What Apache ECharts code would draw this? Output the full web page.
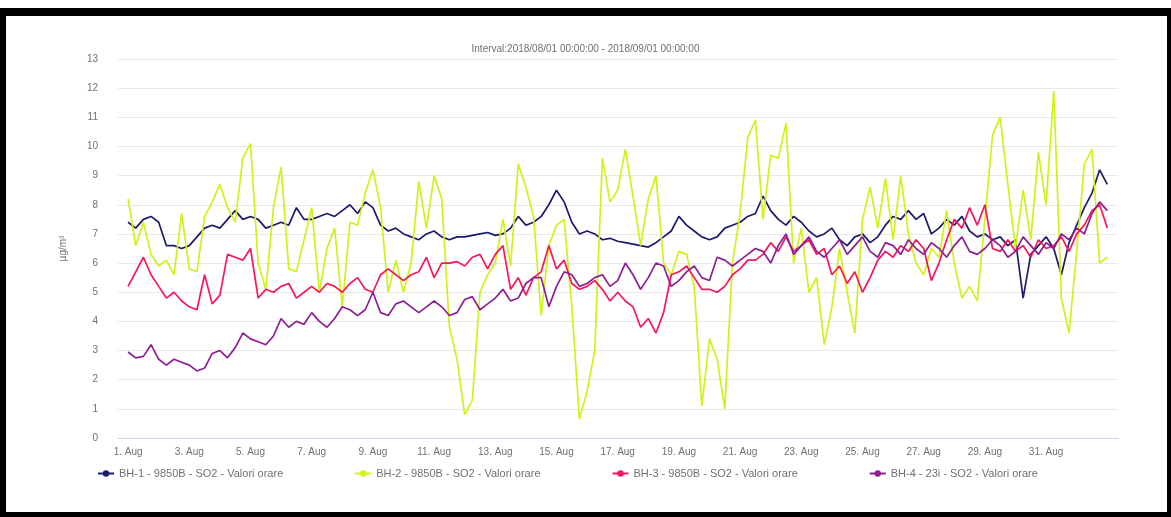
<!DOCTYPE html>
<html>
<head>
<meta charset="utf-8">
<title>SO2 - Valori orare</title>
<script src="https://cdn.jsdelivr.net/npm/echarts@6/dist/echarts.min.js"></script>
<style>
  html, body { margin: 0; padding: 0; background: #fff; }
  #chart { position: absolute; left: 0; top: 0; width: 1171px; height: 517px; }
  /* black frame round the screenshot */
  #frame {
    position: absolute; left: 0; top: 8px; width: 1171px; height: 509px;
    box-sizing: border-box; pointer-events: none;
    border-style: solid; border-color: #000;
    border-width: 8px 4px 5px 6px;
  }
</style>
</head>
<body>
<div id="chart"></div>
<div id="frame"></div>
<script>
// hourly readings, sampled every 6 h from 1 Aug 00:00 to 1 Sep 00:00
const stepDays = 0.25;
const titleText = 'Interval:2018/08/01 00:00:00 - 2018/09/01 00:00:00';
const yName = 'µg/m³';
const seriesNames = [
    'BH-1 - 9850B - SO2 - Valori orare',
    'BH-2 - 9850B - SO2 - Valori orare',
    'BH-3 - 9850B - SO2 - Valori orare',
    'BH-4 - 23i - SO2 - Valori orare'
];
const seriesColors = ['#1b1a6b', '#d4f01a', '#f5175a', '#8c1f93'];
// tick positions in days from 1 Aug, and their labels
const tickDays = [0, 2, 4, 6, 8, 10, 12, 14, 16, 18, 20, 22, 24, 26, 28, 30];
const tickLabels = ['1. Aug', '3. Aug', '5. Aug', '7. Aug', '9. Aug', '11. Aug', '13. Aug', '15. Aug',
    '17. Aug', '19. Aug', '21. Aug', '23. Aug', '25. Aug', '27. Aug', '29. Aug', '31. Aug'];

const bh1 = [
    7.4, 7.2, 7.5, 7.6,  7.4, 6.6, 6.6, 6.5,  6.6, 6.9, 7.2, 7.3,  7.2, 7.5, 7.8, 7.5,
    7.6, 7.5, 7.2, 7.3,  7.4, 7.3, 7.9, 7.5,  7.5, 7.6, 7.7, 7.6,  7.8, 8.0, 7.7, 8.1,
    7.9, 7.3, 7.1, 7.2,  7.0, 6.9, 6.8, 7.0,  7.1, 6.9, 6.8, 6.9,  6.9, 6.95, 7.0, 7.05,
    6.95, 7.0, 7.2, 7.6,  7.3, 7.4, 7.6, 8.0,  8.5, 8.1, 7.4, 7.0,  7.1, 7.0, 6.8, 6.85,
    6.75, 6.7, 6.65, 6.6,  6.55, 6.7, 6.9, 7.1,  7.6, 7.3, 7.1, 6.9,  6.8, 6.9, 7.2, 7.3,
    7.4, 7.6, 7.7, 8.3,  7.8, 7.5, 7.3, 7.6,  7.4, 7.1, 6.9, 7.0,  7.2, 6.8, 6.6, 6.9,
    7.0, 6.7, 6.9, 7.3,  7.6, 7.5, 7.8, 7.5,  7.7, 7.0, 7.2, 7.5,  7.3, 7.6, 7.1, 6.9,
    7.0, 6.8, 6.9, 6.6,  6.8, 4.8, 6.3, 6.6,  6.9, 6.5, 5.6, 6.7,  7.3, 7.9, 8.4, 9.2,
    8.7
];
const bh2 = [
    8.2, 6.6, 7.4, 6.3,  5.9, 6.1, 5.6, 7.7,  5.8, 5.7, 7.6, 8.1,  8.7, 7.9, 7.4, 9.6,
    10.1, 6.0, 5.1, 7.9,  9.3, 5.8, 5.7, 6.8,  7.9, 5.0, 6.5, 7.2,  4.5, 7.4, 7.3, 8.4,
    9.2, 7.9, 5.0, 6.1,  5.0, 6.0, 8.8, 7.2,  9.0, 8.2, 3.8, 2.7,  0.8, 1.3, 5.0, 5.6,
    6.0, 7.5, 5.9, 9.4,  8.6, 7.6, 4.2, 6.6,  7.3, 7.5, 4.5, 0.65,  1.6, 3.0, 9.6, 8.1,
    8.5, 9.9, 8.3, 6.6,  8.2, 9.0, 6.0, 5.6,  6.4, 6.3, 5.2, 1.1,  3.4, 2.7, 1.0, 6.0,
    7.7, 10.3, 10.9, 7.5,  9.7, 9.6, 10.8, 6.0,  7.2, 5.0, 5.5, 3.2,  4.5, 6.5, 5.0, 3.6,
    7.5, 8.6, 7.2, 8.9,  6.8, 9.0, 7.0, 6.0,  5.6, 6.5, 6.2, 7.8,  6.0, 4.8, 5.2, 4.7,
    7.5, 10.4, 11.0, 8.7,  6.5, 8.5, 6.8, 9.8,  8.0, 11.9, 4.8, 3.6,  6.4, 9.4, 9.9, 6.0,
    6.2
];
const bh3 = [
    5.2, 5.7, 6.2, 5.6,  5.2, 4.8, 5.0, 4.7,  4.5, 4.4, 5.6, 4.6,  4.9, 6.3, 6.2, 6.1,
    6.5, 4.8, 5.1, 5.0,  5.2, 5.3, 4.8, 5.0,  5.2, 5.0, 5.3, 5.2,  5.0, 5.3, 5.5, 5.1,
    5.0, 5.6, 5.8, 5.6,  5.4, 5.6, 5.7, 6.2,  5.5, 6.0, 6.0, 6.05,  5.9, 6.2, 6.3, 5.8,
    6.3, 6.6, 5.1, 5.5,  4.9, 5.5, 5.7, 6.6,  5.8, 6.1, 5.3, 5.1,  5.2, 5.4, 5.1, 4.7,
    5.0, 4.7, 4.5, 3.8,  4.1, 3.6, 4.3, 5.6,  5.7, 5.9, 5.5, 5.1,  5.1, 5.0, 5.2, 5.6,
    5.8, 6.1, 6.1, 6.3,  6.7, 6.4, 6.9, 6.4,  6.6, 6.8, 6.3, 6.5,  5.6, 5.9, 5.3, 5.7,
    5.0, 5.5, 6.1, 6.4,  6.2, 6.6, 6.4, 6.8,  6.5, 5.4, 6.0, 6.8,  7.5, 7.2, 7.9, 7.3,
    8.0, 6.5, 6.4, 6.8,  6.4, 6.6, 6.2, 6.8,  6.5, 6.6, 6.9, 6.4,  7.0, 7.3, 7.8, 8.0,
    7.2
];
const bh4 = [
    2.95, 2.75, 2.8, 3.2,  2.7, 2.5, 2.7, 2.6,  2.5, 2.3, 2.4, 2.9,  3.0, 2.75, 3.1, 3.6,
    3.4, 3.3, 3.2, 3.5,  4.1, 3.8, 4.0, 3.9,  4.3, 4.0, 3.8, 4.1,  4.5, 4.4, 4.2, 4.4,
    5.0, 4.3, 4.2, 4.6,  4.7, 4.5, 4.3, 4.5,  4.7, 4.5, 4.2, 4.3,  4.75, 4.85, 4.4, 4.6,
    4.8, 5.1, 4.7, 4.8,  5.3, 5.5, 5.5, 4.5,  5.2, 5.7, 5.6, 5.2,  5.3, 5.5, 5.6, 5.2,
    5.4, 6.0, 5.6, 5.1,  5.5, 6.0, 5.9, 5.2,  5.4, 5.7, 5.9, 5.5,  5.4, 6.2, 6.1, 5.9,
    6.1, 6.3, 6.5, 6.4,  6.0, 6.6, 7.0, 6.3,  6.6, 6.9, 6.4, 6.2,  6.5, 6.8, 6.3, 6.6,
    6.9, 6.4, 6.2, 6.7,  6.6, 6.3, 6.8, 6.5,  6.3, 6.7, 6.5, 6.2,  6.6, 6.9, 6.4, 6.3,
    6.5, 6.8, 6.6, 6.2,  6.4, 6.9, 6.6, 6.3,  6.7, 6.5, 7.0, 6.8,  7.2, 7.0, 7.7, 8.1,
    7.8
];

(function () {
    'use strict';

    const font = 'Liberation Sans, Arial, sans-serif';
    const textColor = '#707070';

    function toPairs (values) {
        return values.map((v, i) => [i * stepDays, v]);
    }

    const allValues = [bh1, bh2, bh3, bh4];
    const series = allValues.map((values, i) => ({
        name: seriesNames[i],
        type: 'line',
        data: toPairs(values),
        showSymbol: false,
        symbol: 'circle',
        symbolSize: 7,
        lineStyle: { width: 1.7, color: seriesColors[i] },
        itemStyle: { color: seriesColors[i] },
        emphasis: { disabled: true },
        animation: false
    }));

    const chart = echarts.init(document.getElementById('chart'), null, { renderer: 'canvas' });
    chart.setOption({
        backgroundColor: '#fff',
        textStyle: { fontFamily: font },
        title: {
            text: titleText,
            left: 'center',
            top: 39,
            textStyle: { fontSize: 10, fontWeight: 'normal', color: textColor, fontFamily: font }
        },
        legend: {
            top: 463,
            left: 92,
            itemGap: 71,
            itemWidth: 16,
            itemHeight: 8,
            textStyle: { fontSize: 11, color: textColor, fontFamily: font }
        },
        grid: { left: 118, right: 53, top: 59, bottom: 79 },
        xAxis: {
            type: 'value',
            min: -0.33,
            max: 32.35,
            axisLine: { lineStyle: { color: '#ccd6eb' } },
            axisTick: { show: false },
            splitLine: { show: false },
            axisLabel: {
                customValues: tickDays,
                formatter: (v) => tickLabels[tickDays.indexOf(v)] || '',
                color: textColor,
                fontSize: 10,
                margin: 9
            }
        },
        yAxis: {
            type: 'value',
            min: 0,
            max: 13,
            interval: 1,
            name: yName,
            nameLocation: 'middle',
            nameGap: 50,
            nameTextStyle: { color: textColor, fontSize: 10 },
            axisLine: { show: false },
            axisTick: { show: false },
            axisLabel: { color: textColor, fontSize: 10, margin: 20 },
            splitLine: { lineStyle: { color: '#e8e8e8', width: 1 } }
        },
        series
    });
}());
</script>
</body>
</html>
